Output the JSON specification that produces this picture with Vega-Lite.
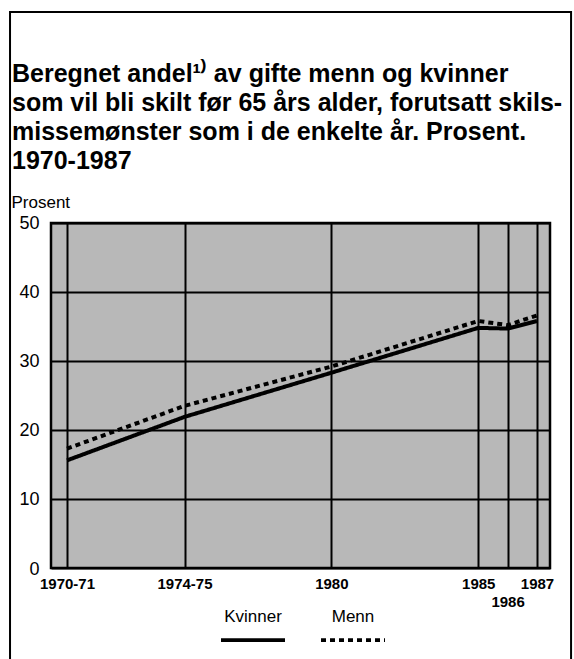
{
  "$schema": "https://vega.github.io/schema/vega-lite/v6.json",
  "width": 499,
  "height": 345,
  "autosize": {"type": "none"},
  "padding": {"left": 51, "top": 223, "right": 24, "bottom": 91},
  "background": "white",
  "config": {
    "font": "Liberation Sans",
    "view": {"fill": "#b8b8b8", "stroke": "black", "strokeWidth": 2.5},
    "axis": {"labelColor": "black", "titleColor": "black"}
  },
  "title": {
    "text": ["Beregnet andel¹⁾ av gifte menn og kvinner", "som vil bli skilt før 65 års alder, forutsatt skils-", "missemønster som i de enkelte år. Prosent.", "1970-1987"],
    "anchor": "start",
    "frame": "group",
    "fontSize": 25,
    "fontWeight": "bold",
    "lineHeight": 29,
    "color": "black",
    "dx": -39,
    "offset": 0,
    "dy": 163
  },
  "layer": [
    {
      "data": {"values": [{}]},
      "mark": {"type": "rect", "fill": "transparent", "stroke": "black", "strokeWidth": 2, "clip": false},
      "encoding": {
        "x": {"datum": 1969.06, "type": "quantitative"},
        "x2": {"datum": 1988.16},
        "y": {"datum": 80.58, "type": "quantitative"},
        "y2": {"datum": -20}
      }
    },
    {
      "data": {
        "values": [
          {"year": 1971, "serie": "Kvinner", "prosent": 15.6},
          {"year": 1975, "serie": "Kvinner", "prosent": 21.9},
          {"year": 1980, "serie": "Kvinner", "prosent": 28.3},
          {"year": 1985, "serie": "Kvinner", "prosent": 34.8},
          {"year": 1986, "serie": "Kvinner", "prosent": 34.7},
          {"year": 1987, "serie": "Kvinner", "prosent": 35.8},
          {"year": 1971, "serie": "Menn", "prosent": 17.3},
          {"year": 1975, "serie": "Menn", "prosent": 23.5},
          {"year": 1980, "serie": "Menn", "prosent": 29.2},
          {"year": 1985, "serie": "Menn", "prosent": 35.8},
          {"year": 1986, "serie": "Menn", "prosent": 35.2},
          {"year": 1987, "serie": "Menn", "prosent": 36.6}
        ]
      },
      "mark": {"type": "line", "color": "black", "strokeWidth": 4, "strokeCap": "butt"},
      "encoding": {
        "x": {
          "field": "year",
          "type": "quantitative",
          "scale": {"domain": [1970.455, 1987.443], "nice": false, "zero": false},
          "axis": {
            "title": null,
            "values": [1971, 1975, 1980, 1985, 1986, 1987],
            "format": "d",
            "labelExpr": "datum.value == 1971 ? '1970-71' : datum.value == 1975 ? '1974-75' : datum.label",
            "labelFontSize": 15,
            "labelFontWeight": "bold",
            "labelPadding": {"condition": {"test": "datum.value == 1986", "value": 26}, "value": 8},
            "labelOverlap": false,
            "labelFlush": false,
            "domain": false,
            "ticks": false,
            "grid": true,
            "gridColor": "black",
            "gridWidth": 2,
            "gridOpacity": 1
          }
        },
        "y": {
          "field": "prosent",
          "type": "quantitative",
          "scale": {"domain": [0, 50], "nice": false},
          "axis": {
            "title": "Prosent",
            "titleAngle": 0,
            "titleAlign": "left",
            "titleBaseline": "alphabetic",
            "titleX": -40,
            "titleY": -16,
            "titleFontSize": 17,
            "titleFontWeight": "normal",
            "values": [0, 10, 20, 30, 40, 50],
            "labelFontSize": 18,
            "labelPadding": 12,
            "labelBaseline": {"condition": {"test": "datum.value == 0", "value": "top"}, "value": "middle"},
            "labelOffset": {"condition": {"test": "datum.value == 0", "value": -8}, "value": 0},
            "domain": false,
            "ticks": false,
            "grid": true,
            "gridColor": "black",
            "gridWidth": 2,
            "gridOpacity": 1
          }
        },
        "strokeDash": {
          "field": "serie",
          "type": "nominal",
          "scale": {"domain": ["Kvinner", "Menn"], "range": [[1, 0], [5, 4]]},
          "legend": {
            "title": null,
            "orient": "none",
            "legendX": 168,
            "legendY": 383,
            "direction": "horizontal",
            "padding": 0,
            "symbolType": "stroke",
            "symbolSize": 4096,
            "symbolStrokeWidth": 3.8,
            "symbolStrokeColor": "black",
            "labelFontSize": 17,
            "labelColor": "black",
            "labelAlign": "center",
            "labelBaseline": "middle",
            "labelOffset": -34,
            "columnPadding": 20,
            "encode": {"labels": {"update": {"dy": {"value": -23}}}}
          }
        }
      }
    }
  ]
}
